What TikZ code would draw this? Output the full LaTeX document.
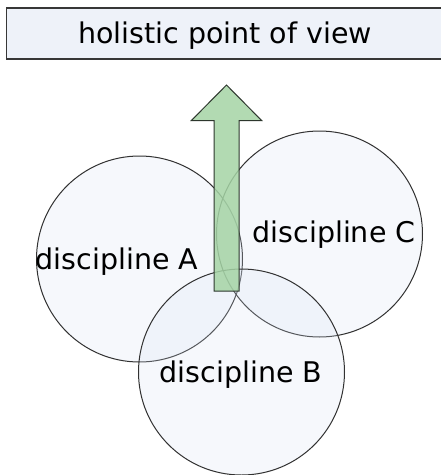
\documentclass[tikz,border=0pt]{standalone}
\usepackage{fontspec}
\setmainfont{DejaVu Sans}
\definecolor{discline}{RGB}{50,50,50}
\definecolor{discfill}{RGB}{215,226,245}
\definecolor{boxline}{RGB}{55,55,55}
\definecolor{boxfill}{RGB}{238,242,249}
\definecolor{arrline}{RGB}{45,55,45}
\definecolor{arrfill}{RGB}{165,212,165}
\begin{document}
\begin{tikzpicture}[x=1pt,y=-1pt,
  disc/.style={circle, draw=discline, line width=1pt,
    fill=discfill, fill opacity=0.22, text opacity=1,
    minimum size=206pt, inner sep=0pt},
  lbl/.style={anchor=base, inner sep=0pt, font=\fontsize{28.5}{32}\selectfont, text=black},
  titlebox/.style={rectangle, draw=boxline, line width=1.4pt,
    fill=boxfill, minimum width=460pt, minimum height=51pt, inner sep=0pt},
  bigarrow/.style={draw=arrline, line width=1pt,
    fill=arrfill, fill opacity=0.85}
]
\useasboundingbox (0,0) rectangle (441,475);
\clip (0,0) rectangle (441,475);
\fill[white] (0,0) rectangle (441,475);

\node[titlebox] (title) at (236.5,33.5) {};
\node[lbl] (titletext) at (225,43) {holistic point of view};

\node[disc] (A) at (139.5,259) {};
\node[disc] (C) at (319.5,234) {};
\node[disc] (B) at (241.5,372) {};

\node[lbl] (la) at (117,269) {discipline A};
\node[lbl] (lc) at (334,242) {discipline C};
\node[lbl] (lb) at (241,382) {discipline B};

\coordinate (tip) at (226.5,85);
\draw[bigarrow] (tip) -- (261.8,120.7) -- (239,120.7) -- (239,291)
  -- (214,291) -- (214,120.7) -- (191.2,120.7) -- cycle;
\end{tikzpicture}
\end{document}
